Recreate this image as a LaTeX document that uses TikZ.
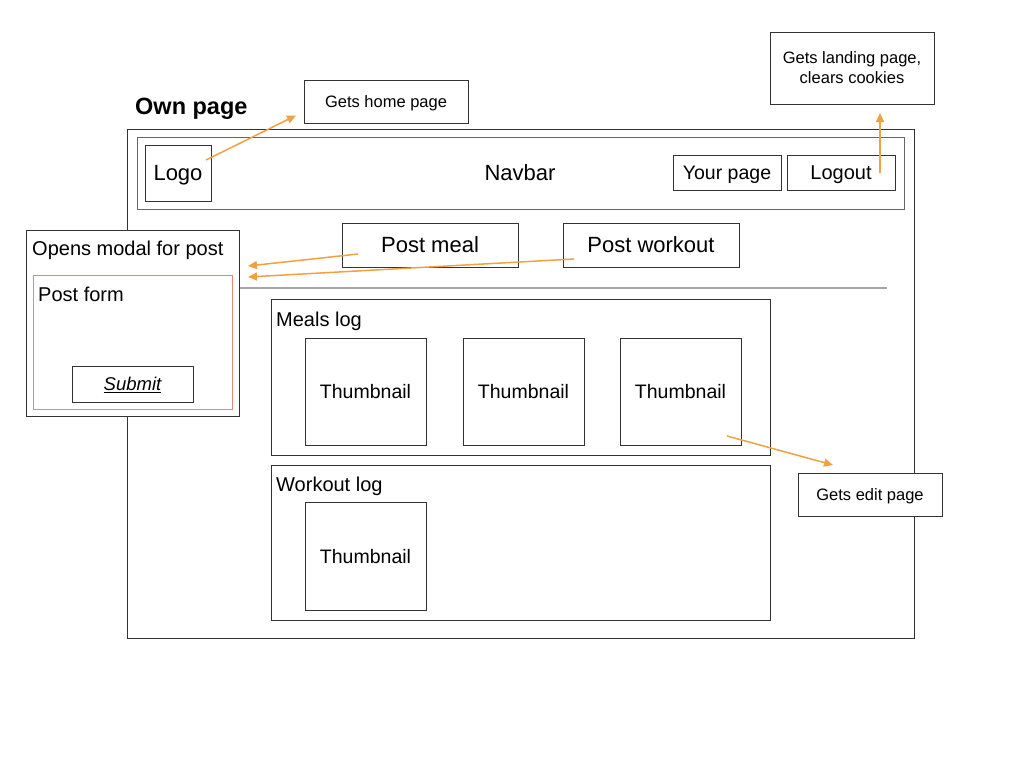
\documentclass[tikz,border=0pt]{standalone}
\usepackage{fontspec}
\setmainfont{Liberation Sans}
\usetikzlibrary{arrows.meta}
\definecolor{linkorange}{RGB}{240,162,66}
\definecolor{formred}{RGB}{232,136,116}
\begin{document}
\begin{tikzpicture}
[x=1pt, y=-1pt,
box/.style={draw=black!80, line width=0.8pt, fill=white, outer sep=0pt, inner sep=0pt, anchor=north west},
capbox/.style={box, text depth=0pt},
note/.style={capbox, font=\fontsize{16.5}{19}\selectfont},
label/.style={anchor=base west, inner sep=0pt, font=\fontsize{20}{24}\selectfont},
link/.style={draw=linkorange, line width=1.5pt, -{Triangle[length=9pt,width=8pt]}}
]
\tikzset{every node/.style={font=\fontsize{20}{24}\selectfont}}
\useasboundingbox[fill=white] (0,0) rectangle (1024,768);
% page frame
\node[box, minimum width=787pt, minimum height=509pt] (frame) at (127,129) {};
\node[label, font=\fontsize{23.5}{27}\selectfont\bfseries] (title) at (135,114) {Own page};
% navbar
\node[box, draw=black!60, minimum width=767pt, minimum height=72pt] (navbar) at (137,137) {};
\node[capbox, minimum width=66pt, minimum height=56pt, font=\fontsize{22}{26}\selectfont] (logo) at (145,145) {Logo};
\node[text depth=0pt, inner sep=0pt, font=\fontsize{22}{26}\selectfont] (navlabel) at (520,173) {Navbar};
\node[capbox, minimum width=108pt, minimum height=35pt, font=\fontsize{19.5}{23}\selectfont] (yourpage) at (673,155) {Your page};
\node[capbox, minimum width=108pt, minimum height=35pt] (logout) at (787,155) {Logout};
% buttons
\node[capbox, minimum width=176pt, minimum height=44pt, font=\fontsize{22}{26}\selectfont] (postmeal) at (342,223) {Post meal};
\node[capbox, minimum width=176pt, minimum height=44pt, font=\fontsize{22}{26}\selectfont] (postworkout) at (563,223) {Post workout};
\draw[black!35, line width=1.2pt] (240,288) -- (887,288);
% meals log
\node[box, minimum width=499pt, minimum height=156pt] (meals) at (271,299) {};
\node[label] (mealslabel) at (276,326) {Meals log};
\foreach \x/\n in {305/1, 463/2, 620/3}
  \node[capbox, minimum width=121pt, minimum height=107pt, font=\fontsize{19.5}{23}\selectfont] (thumb\n) at (\x,338) {Thumbnail};
% workout log
\node[box, minimum width=499pt, minimum height=155pt] (workouts) at (271,465) {};
\node[label] (workoutlabel) at (276,491) {Workout log};
\node[capbox, minimum width=121pt, minimum height=108pt, font=\fontsize{19.5}{23}\selectfont] (thumb4) at (305,502) {Thumbnail};
% modal
\node[box, minimum width=213pt, minimum height=186pt] (modal) at (26,230) {};
\node[label] (modallabel) at (32,255) {Opens modal for post};
\node[box, draw=formred, minimum width=199pt, minimum height=134pt] (form) at (33,275) {};
\node[label] (formlabel) at (38,301) {Post form};
\node[capbox, minimum width=121pt, minimum height=36pt, font=\fontsize{18.5}{22}\selectfont\itshape] (submit) at (72,366) {\underline{Submit}};
% notes
\node[note, minimum width=164pt, minimum height=43pt] (home) at (304,80) {Gets home page};
\node[box, font=\fontsize{16.5}{20}\selectfont, minimum width=164pt, minimum height=72pt, align=center] (landing) at (770,32) {Gets landing page,\\clears cookies};
\node[note, minimum width=144pt, minimum height=43pt] (edit) at (798,473) {Gets edit page};
% links
\draw[link] ([xshift=-5pt,yshift=13pt]logo.east) -- ([xshift=-8pt,yshift=-14pt]home.west);
\draw[link] ([xshift=-15pt]logout.east) -- ([xshift=28pt,yshift=-9pt]landing.south);
\draw[link] ([xshift=16pt,yshift=-9pt]postmeal.west) -- ([xshift=9pt,yshift=-36pt]modal.north east);
\draw[link] ([xshift=11pt,yshift=-14pt]postworkout.west) -- ([xshift=9pt,yshift=-47pt]modal.north east);
\draw[link] ([xshift=-14pt,yshift=9pt]thumb3.south east) -- ([xshift=-37pt,yshift=8pt]edit.north);
\end{tikzpicture}
\end{document}
